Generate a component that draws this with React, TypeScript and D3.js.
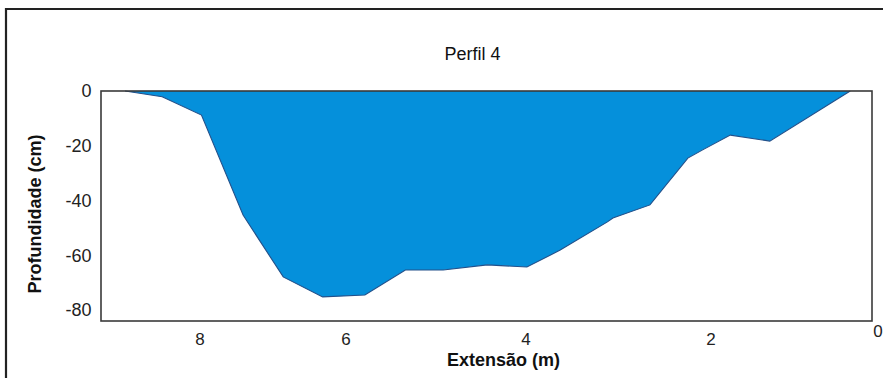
import React from "react";
import * as d3 from "d3";

const extensao = [9.03, 8.52, 7.98, 7.41, 6.86, 6.32, 5.79, 5.34, 4.92, 4.43, 3.99, 3.63, 3.12, 3.06, 2.66, 2.25, 2.09, 1.76, 1.27, 0.27];
const profundidade = [0, -2.1, -8.8, -45.3, -67.9, -75.2, -74.5, -65.4, -65.4, -63.5, -64.3, -58.1, -47.8, -46.4, -41.6, -24.5, -21.5, -16.1, -18.3, 0];
const xTicks = [8, 6, 4, 2, 0];
const yTicks = [0, -20, -40, -60, -80];
const title = "Perfil 4";
const xTitle = "Extensão (m)";
const yTitle = "Profundidade (cm)";

const W = 883;
const H = 378;
const plot = { left: 101, top: 91, right: 872, bottom: 321 };
const FONT = "'Liberation Sans', Arial, sans-serif";

export default function App() {
  // reference image is non-uniformly stretched along x: piecewise scale
  const x = d3
    .scaleLinear()
    .domain([0, 2, 4, 6, 8, 9.36])
    .range([plot.right, 711, 526, 346, 200, plot.left]);
  const y = d3.scaleLinear().domain([-84, 0]).range([plot.bottom, plot.top]);

  const pts = extensao.map((e, i) => ({ e, p: profundidade[i] }));
  const area = d3
    .area<{ e: number; p: number }>()
    .x((d) => x(d.e))
    .y0(y(0))
    .y1((d) => y(d.p));
  const line = d3
    .line<{ e: number; p: number }>()
    .x((d) => x(d.e))
    .y((d) => y(d.p));

  return (
    <svg
      width={W}
      height={H}
      style={{ position: "absolute", left: 0, top: 0, background: "#fff" }}
      fontFamily={FONT}
    >
      {/* outer frame */}
      <line x1={6} y1={9} x2={W} y2={9} stroke="#222" strokeWidth={2} />
      <line x1={6} y1={8} x2={6} y2={H} stroke="#222" strokeWidth={2.2} />

      <text x={472.5} y={60} fontSize={18} textAnchor="middle" fill="#111">
        {title}
      </text>

      <path d={area(pts) || ""} fill="#0590db" />
      <path d={line(pts) || ""} fill="none" stroke="#23508a" strokeWidth={1.1} />

      {/* plot frame */}
      <rect
        x={plot.left}
        y={plot.top}
        width={plot.right - plot.left}
        height={plot.bottom - plot.top}
        fill="none"
        stroke="#3a3a3a"
        strokeWidth={1.6}
      />

      {yTicks.map((t) => (
        <text key={t} x={91.5} y={y(t)} dy="0.35em" fontSize={18} textAnchor="end" fill="#222">
          {t}
        </text>
      ))}

      {xTicks.map((t) =>
        t === 0 ? (
          <text key={t} x={x(t) + 6} y={337} fontSize={17} textAnchor="middle" fill="#222">
            {t}
          </text>
        ) : (
          <text key={t} x={x(t)} y={345} fontSize={17} textAnchor="middle" fill="#222">
            {t}
          </text>
        )
      )}

      <text x={503.5} y={366} fontSize={18} fontWeight="bold" textAnchor="middle" fill="#111">
        {xTitle}
      </text>
      <text
        transform="translate(41,214) rotate(-90)"
        fontSize={18}
        fontWeight="bold"
        textAnchor="middle"
        fill="#111"
      >
        {yTitle}
      </text>
    </svg>
  );
}
